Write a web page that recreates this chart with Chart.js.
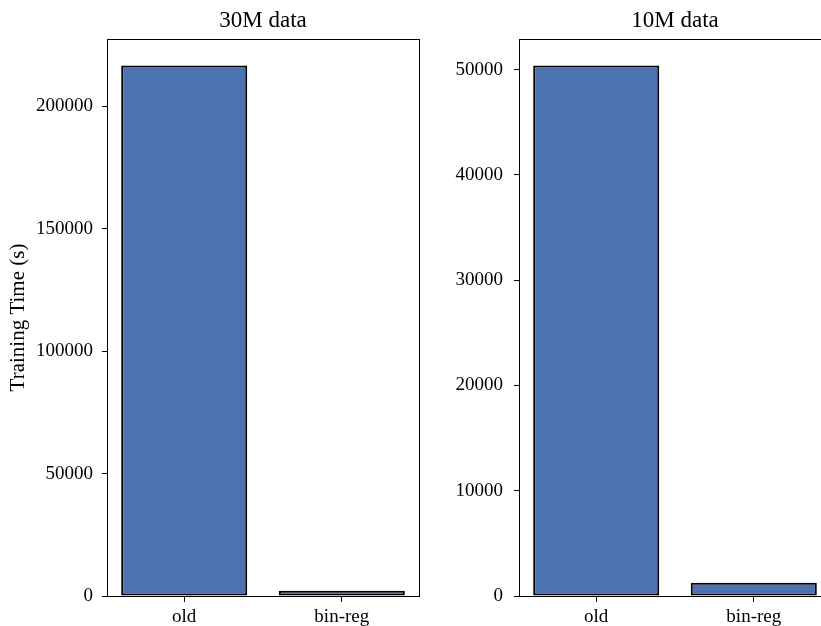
<!DOCTYPE html>
<html>
<head>
<meta charset="utf-8">
<script src="https://cdn.jsdelivr.net/npm/chart.js@4.4.0/dist/chart.umd.min.js"></script>
<style>
  html, body { margin: 0; padding: 0; background: #fff; }
  #wrap { position: relative; width: 821px; height: 626px; overflow: hidden; }
  .panel { position: absolute; top: 0; width: 420px; height: 626px; }
  #p1 { left: 0; }
  #p2 { left: 412px; }
</style>
</head>
<body>
<div id="wrap">
  <div class="panel" id="p1"><canvas id="c1" width="420" height="626"></canvas></div>
  <div class="panel" id="p2"><canvas id="c2" width="420" height="626"></canvas></div>
</div>
<script>
// Training time per method, for two dataset sizes
const methods = ['old', 'bin-reg'];
const time30M = [216600, 2100];
const time10M = [50380, 1260];
const ticks30M = [0, 50000, 100000, 150000, 200000];
const ticks10M = [0, 10000, 20000, 30000, 40000, 50000];

const SERIF = '"Liberation Serif", "Times New Roman", serif';
const BAR_FILL = '#4c72b0';

// Draws the top and right spines so the axes form a closed box
const frameBox = {
  id: 'frameBox',
  afterDraw(chart) {
    const a = chart.chartArea, ctx = chart.ctx;
    ctx.save();
    ctx.strokeStyle = '#000';
    ctx.lineWidth = 1;
    ctx.strokeRect(Math.round(a.left) + 0.5, Math.round(a.top) + 0.5,
                   Math.round(a.right - a.left), Math.round(a.bottom - a.top));
    ctx.restore();
  }
};

function makeChart(canvasId, title, values, yTicks, yTitle, yLabelPad) {
  const points = values.map((v, i) => ({ x: i, y: v }));
  return new Chart(document.getElementById(canvasId), {
    type: 'bar',
    data: {
      datasets: [{
        data: points,
        backgroundColor: BAR_FILL,
        borderColor: '#000',
        borderWidth: 2,
        borderSkipped: false,
        categoryPercentage: 1.0,
        barPercentage: 0.8
      }]
    },
    options: {
      responsive: false,
      animation: false,
      devicePixelRatio: 1,
      layout: { padding: { left: 0, right: 1, top: 0, bottom: 0 } },
      plugins: {
        legend: { display: false },
        tooltip: { enabled: false },
        title: {
          display: true,
          text: title,
          fullSize: false,
          color: '#000',
          font: { family: SERIF, size: 23, weight: 'normal', lineHeight: 1.2 },
          padding: { top: 7, bottom: 4.4 }
        }
      },
      scales: {
        x: {
          type: 'linear',
          offset: false,
          min: -0.49,
          max: methods.length - 1 + 0.49,
          afterBuildTicks(scale) { scale.ticks = methods.map((_, i) => ({ value: i })); },
          afterFit(scale) { scale.height = 30; },
          ticks: {
            color: '#000',
            font: { family: SERIF, size: 19 },
            padding: 4,
            maxRotation: 0,
            autoSkip: false,
            callback: (v) => methods[v]
          },
          grid: { offset: false, drawOnChartArea: false, drawTicks: true, tickLength: 6, color: '#000', tickWidth: 1 },
          border: { display: true, color: '#000', width: 1 }
        },
        y: {
          type: 'linear',
          min: 0,
          max: Math.max(...values) * 1.05,
          afterBuildTicks(scale) { scale.ticks = yTicks.map(v => ({ value: v })); },
          afterFit(scale) { scale.width = 107; },
          ticks: {
            color: '#000',
            font: { family: SERIF, size: 19 },
            padding: yLabelPad,
            callback: (v) => String(v)
          },
          grid: { drawOnChartArea: false, drawTicks: true, tickLength: 5, color: '#000', tickWidth: 1 },
          border: { display: true, color: '#000', width: 1 },
          title: {
            display: !!yTitle,
            text: yTitle,
            color: '#000',
            font: { family: SERIF, size: 21, weight: 'normal', lineHeight: 1.2 },
            padding: { top: 6, bottom: 0 }
          }
        }
      }
    },
    plugins: [frameBox]
  });
}

makeChart('c1', '30M data', time30M, ticks30M, 'Training Time (s)', 9);
makeChart('c2', '10M data', time10M, ticks10M, '', 11);
</script>
</body>
</html>
